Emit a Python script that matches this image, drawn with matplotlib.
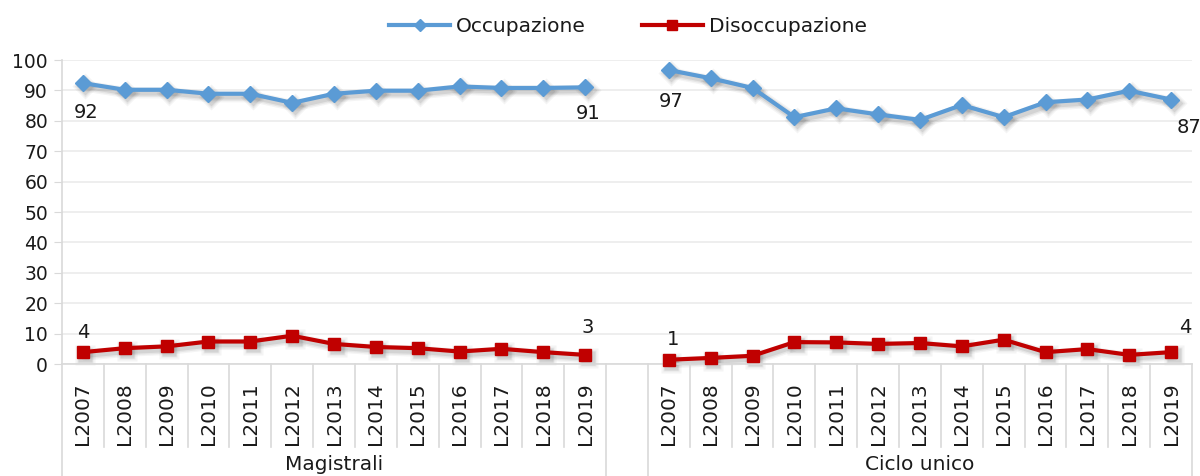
import matplotlib
matplotlib.use("Agg")
import matplotlib.pyplot as plt
from matplotlib.lines import Line2D
import matplotlib.transforms as mtransforms

plt.rcParams['font.family'] = ['DejaVu Sans']

years = ["L2007", "L2008", "L2009", "L2010", "L2011", "L2012", "L2013",
         "L2014", "L2015", "L2016", "L2017", "L2018", "L2019"]
groups = ["Magistrali", "Ciclo unico"]

occ_magistrali = [92.4, 90.2, 90.2, 88.9, 88.9, 85.9, 88.9, 89.9, 89.9, 91.3, 90.8, 90.8, 91.0]
dis_magistrali = [3.9, 5.2, 5.8, 7.4, 7.4, 9.3, 6.6, 5.6, 5.2, 4.1, 5.0, 3.9, 3.0]
occ_ciclo = [96.7, 94.0, 90.8, 81.2, 84.1, 82.1, 80.3, 85.2, 81.2, 86.1, 87.0, 89.9, 87.0]
dis_ciclo = [1.4, 2.0, 2.7, 7.2, 7.1, 6.6, 6.9, 5.8, 8.0, 3.9, 4.9, 3.0, 3.9]

label_occ = ["92", "91", "97", "87"]
label_dis = ["4", "3", "1", "4"]

BLUE = "#5B9BD5"
RED = "#C00000"
GRID = "#EBEBEB"
AXC = "#D9D9D9"
TXT = "#1a1a1a"

W, H = 1200, 476
fig = plt.figure(figsize=(W / 100, H / 100), dpi=100)
left, right, top, bottom = 62, 1192, 60, 364
ax = fig.add_axes([left / W, 1 - bottom / H, (right - left) / W, (bottom - top) / H])

n = len(years)
x_mag = list(range(n))
x_cic = [n + 1 + i for i in range(n)]

shadow_tr = mtransforms.offset_copy(ax.transData, fig=fig, x=2.5, y=-3.0, units='dots')

def draw(xs, ys, color, marker, ms):
    for lw_add, a in ((5, 0.05), (3, 0.07), (1, 0.10)):
        ax.plot(xs, ys, color='#303030', lw=3 + lw_add, alpha=a, marker=marker,
                ms=ms + lw_add, mfc='#303030', mec='none', transform=shadow_tr,
                clip_on=False, zorder=2, solid_capstyle='round', solid_joinstyle='round')
    ax.plot(xs, ys, color=color, lw=3, marker=marker, ms=ms, mfc=color, mec=color,
            clip_on=False, zorder=3, solid_capstyle='round', solid_joinstyle='round')

draw(x_mag, occ_magistrali, BLUE, 'D', 8.5)
draw(x_cic, occ_ciclo, BLUE, 'D', 8.5)
draw(x_mag, dis_magistrali, RED, 's', 9)
draw(x_cic, dis_ciclo, RED, 's', 9)

ax.set_xlim(-0.5, 2 * n + 0.5)
ax.set_ylim(0, 100)
ax.set_yticks(range(0, 101, 10))
ax.yaxis.grid(True, color=GRID, lw=1.2)
ax.set_axisbelow(True)
ax.tick_params(axis='y', length=6, color=AXC, labelsize=13.5, pad=4, labelcolor=TXT)
ax.set_xticks([])
for s in ['top', 'right']:
    ax.spines[s].set_visible(False)
for s in ['left', 'bottom']:
    ax.spines[s].set_color(AXC)
    ax.spines[s].set_linewidth(1.2)

trans = mtransforms.blended_transform_factory(ax.transData, ax.transAxes)
axh = bottom - top
short = -(447 - bottom) / axh
full = -(H - bottom) / axh

for k in range(2 * n + 2):
    xb = k - 0.5
    is_group = k in (0, n, n + 1, 2 * n + 1)
    y1 = full if is_group else short
    ax.add_line(Line2D([xb, xb], [0, y1], transform=trans, color=AXC, lw=1.2, clip_on=False))

ylab = -(414 - bottom) / axh
for xs in (x_mag, x_cic):
    for xi, yr in zip(xs, years):
        ax.text(xi, ylab, yr, transform=trans, rotation=90, ha='center', va='center',
                fontsize=14.5, color=TXT)

gy = -(464 - bottom) / axh
ax.text((n - 1) / 2, gy, groups[0], transform=trans, ha='center', va='center', fontsize=14.5, color=TXT)
ax.text(n + 1 + (n - 1) / 2, gy, groups[1], transform=trans, ha='center', va='center', fontsize=14.5, color=TXT)

# data labels (offsets in pixels from the point)
fs = 14
def lab(x, y, s, dx, dy, ha, va):
    ax.annotate(s, (x, y), xytext=(dx * 0.72, dy * 0.72), textcoords='offset points',
                ha=ha, va=va, fontsize=fs, color=TXT, annotation_clip=False)

lab(x_mag[0], occ_magistrali[0], label_occ[0], 3, -20, 'center', 'top')
lab(x_mag[-1], occ_magistrali[-1], label_occ[1], 3, -17, 'center', 'top')
lab(x_cic[0], occ_ciclo[0], label_occ[2], 2, -22, 'center', 'top')
lab(x_cic[-1], occ_ciclo[-1], label_occ[3], 6, -18, 'left', 'top')
lab(x_mag[0], dis_magistrali[0], label_dis[0], 0, 10, 'center', 'bottom')
lab(x_mag[-1], dis_magistrali[-1], label_dis[1], 3, 18, 'center', 'bottom')
lab(x_cic[0], dis_ciclo[0], label_dis[2], 4, 11, 'center', 'bottom')
lab(x_cic[-1], dis_ciclo[-1], label_dis[3], 14, 15, 'center', 'bottom')

handles = [Line2D([], [], color=BLUE, lw=3, marker='D', ms=6.5, mfc=BLUE, mec=BLUE),
           Line2D([], [], color=RED, lw=3, marker='s', ms=7.5, mfc=RED, mec=RED)]
fig.legend(handles, ["Occupazione", "Disoccupazione"], loc='center', bbox_to_anchor=(628 / W, 1 - 27 / H),
           ncol=2, frameon=False, fontsize=14.5, handlelength=3.0, columnspacing=2.8, handletextpad=0.3,
           labelcolor=TXT)

fig.savefig("out.png", dpi=100)
